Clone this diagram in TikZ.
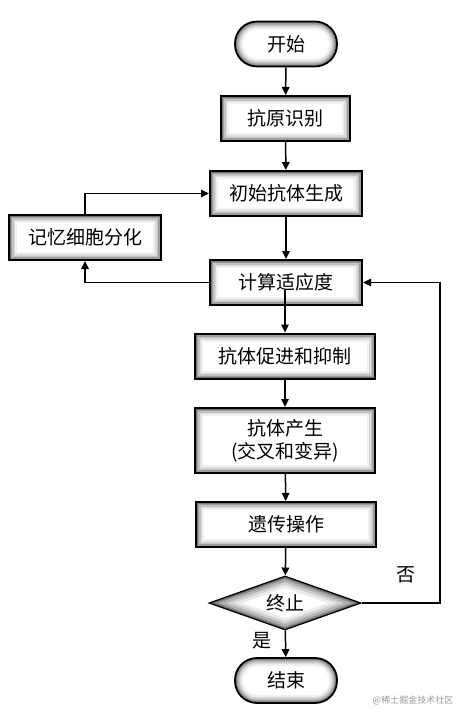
\documentclass[tikz,border=0pt]{standalone}
\usepackage{fontspec}
\setmainfont{Noto Sans CJK SC}
\usetikzlibrary{shapes.geometric,arrows.meta}
\tikzset{
  x=1pt,y=-1pt,
  glowbox/.style={draw=black, line width=2pt, minimum width=#1, minimum height=45pt, inner sep=0pt,
    path picture={
      \foreach \w/\c in {16/6,12/14,9/24,6/38,3/55}{
        \draw[line width=\w pt, black!\c] (path picture bounding box.north west) rectangle (path picture bounding box.south east);}
    }},
  term/.style={draw=black, line width=1.8pt, minimum width=102pt, minimum height=45pt, rounded corners=22pt, inner sep=0pt,
    path picture={
      \foreach \w/\c in {16/6,12/14,9/24,6/38,3/55}{
        \draw[line width=\w pt, black!\c, rounded corners=22pt] (path picture bounding box.north west) rectangle (path picture bounding box.south east);}
    }},
  dia/.style={draw=black, line width=1.2pt, diamond, minimum width=152pt, minimum height=54pt, aspect=2.8, inner sep=0pt,
    path picture={
      \foreach \w/\c in {22/8,16/18,11/30,6/45,3/60}{
        \draw[line width=\w pt, black!\c] (path picture bounding box.north) -- (path picture bounding box.east) -- (path picture bounding box.south) -- (path picture bounding box.west) -- cycle;}
    }},
  arr/.style={line width=1.5pt, -{Triangle[length=8pt,width=7.5pt]}},
  lbl/.style={font=\fontsize{19}{23}\selectfont},
}
\begin{document}
\begin{tikzpicture}
\useasboundingbox (0,0) rectangle (463,710);
\node[term, lbl] (start) at (286,44) {开始};
\node[glowbox=129pt, lbl] (ag) at (285.5,118.5) {抗原识别};
\node[glowbox=152pt, lbl] (init) at (286,193.5) {初始抗体生成};
\node[glowbox=152pt, lbl] (mem) at (85,237.5) {记忆细胞分化};
\node[glowbox=152pt, lbl] (fit) at (286,282.5) {计算适应度};
\node[glowbox=180pt, lbl] (prom) at (285,356) {抗体促进和抑制};
\node[glowbox=180pt, minimum height=65pt, lbl, align=center] (prod) at (285,440.5) {抗体产生\\(交叉和变异)};
\node[glowbox=180pt, lbl] (gen) at (286,524.5) {遗传操作};
\node[dia, lbl] (stop) at (285,603) {终止};
\node[term, lbl] (end) at (286,680.5) {结束};
\coordinate (r1) at (440,603);
\coordinate (r2) at (440,282.5);
\coordinate (l1) at (85,282.5);
\coordinate (l2) at (85,193.5);
\coordinate (fitin) at (285,290);
\draw[arr] (start) -- (ag);
\draw[arr] (ag) -- (init);
\draw[arr] (init) -- (fit);
\draw[arr] (fitin) -- (prom.north);
\draw[arr] (prom) -- (prod);
\draw[arr] (prod) -- (gen);
\draw[arr] (gen) -- (stop);
\draw[arr] (stop) -- (end);
\draw[arr] (stop.east) -- (r1) -- (r2) -- (fit.east);
\draw[arr] (fit.west) -- (l1) -- (mem.south);
\draw[arr] (mem.north) -- (l2) -- (init.west);
\node[lbl] (no) at (406,575) {否};
\node[lbl] (yes) at (262,641) {是};
\node[font=\fontsize{9}{10}\selectfont, text=black!40] (wm) at (413,700) {@稀土掘金技术社区};
\end{tikzpicture}
\end{document}
